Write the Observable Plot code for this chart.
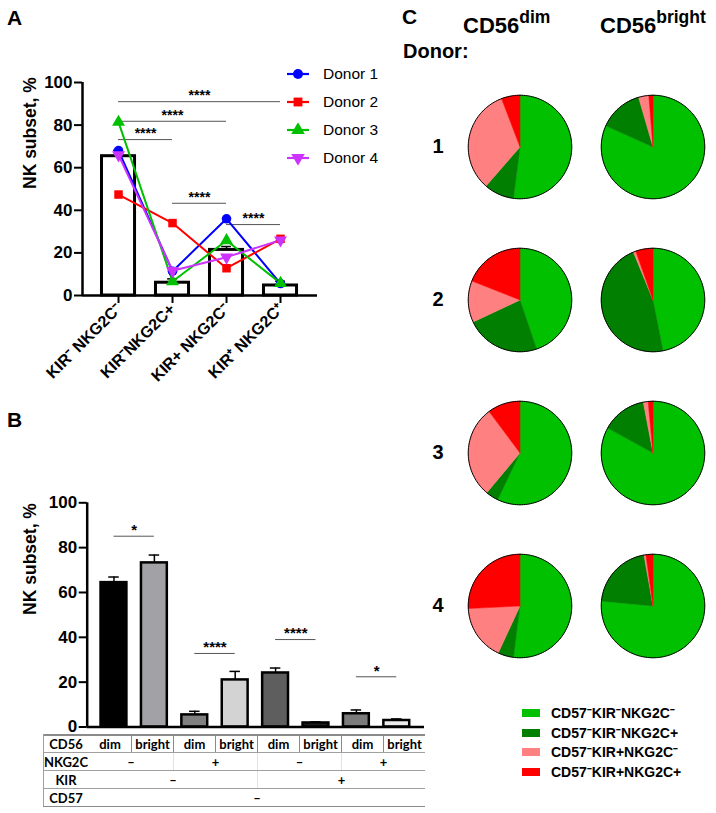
<!DOCTYPE html>
<html><head><meta charset="utf-8">
<script src="https://cdn.jsdelivr.net/npm/d3@7"></script>
<script src="https://cdn.jsdelivr.net/npm/@observablehq/plot@0.6"></script>
<style>
body{margin:0;background:#fff;font-family:"Liberation Sans",Arial,sans-serif;color:#000;}
#page{position:relative;width:716px;height:813px;overflow:hidden;background:#fff;}
.abs{position:absolute;white-space:nowrap;}
.panel{font-weight:bold;font-size:21px;line-height:21px;}
.hdr{font-weight:bold;font-size:22px;line-height:22px;}
.hdr .sup{font-size:17.5px;position:relative;top:-10px;}
.leg{font-size:15.5px;line-height:16px;}
.legc{font-weight:bold;font-size:14px;line-height:14px;}
.tcell{position:absolute;font-family:Lato,"Noto Sans",sans-serif;font-weight:bold;font-size:13px;line-height:18px;height:18px;text-align:center;box-sizing:border-box;}
</style></head><body><div id="page"></div>
<script>
// ---------- Panel A data ----------
const categoriesA = ["KIR⁻ NKG2C⁻", "KIR⁻NKG2C+", "KIR+ NKG2C⁻", "KIR⁺ NKG2C⁺"];
const meanA = [65.4, 6.0, 21.4, 4.7];
const errTopA = [68.2, 7.8, 23.0, 6.7];
const donors = ["Donor 1", "Donor 2", "Donor 3", "Donor 4"];
const donor1 = [68.0, 11.4, 36.0, 5.6];
const donor2 = [47.4, 34.0, 12.8, 26.6];
const donor3 = [81.4, 6.6, 25.8, 5.8];
const donor4 = [66.0, 11.6, 18.0, 26.0];
const donorColors = ["#0000ff", "#ff0000", "#00c000", "#cc33ff"];
const sigFromA = [0, 0, 0, 1, 2];
const sigToA = [3, 2, 1, 2, 3];
const sigYA = [91, 81.8, 73.2, 43.3, 33.3];
const sigLabelA = ["****", "****", "****", "****", "****"];

// ---------- Panel B data ----------
const cd56B = ["dim", "bright", "dim", "bright", "dim", "bright", "dim", "bright"];
const meanB = [64.4, 73.2, 5.4, 21.0, 24.1, 1.8, 5.9, 2.9];
const errTopB = [66.9, 76.7, 7.0, 24.8, 26.3, 2.3, 7.6, 3.6];
const fillB = ["#000000", "#a2a2a6", "#808080", "#d3d3d3", "#5e5e5e", "#1e1e1e", "#7b7b7b", "#ececec"];
const sigFromB = [0, 2, 4, 6];
const sigToB = [1, 3, 5, 7];
const sigYB = [85.1, 32.8, 39.0, 22.4];
const sigLabelB = ["*", "****", "****", "*"];
const tableRowLabels = ["CD56", "NKG2C", "KIR", "CD57"];
const tableCells = [
  [["dim",1],["bright",1],["dim",1],["bright",1],["dim",1],["bright",1],["dim",1],["bright",1]],
  [["–",2],["+",2],["–",2],["+",2]],
  [["–",4],["+",4]],
  [["–",8]]
];
const yTicks = [0, 20, 40, 60, 80, 100];
const yLabel = "NK subset, %";

// ---------- Panel C data (percent, clockwise from 12 o'clock) ----------
const subsets = ["CD57⁻KIR⁻NKG2C⁻", "CD57⁻KIR⁻NKG2C+", "CD57⁻KIR+NKG2C⁻", "CD57⁻KIR+NKG2C+"];
const subsetColors = ["#00c000", "#007f00", "#ff8080", "#ff0000"];
const donorIds = ["1", "2", "3", "4"];
const cd56Types = ["dim", "bright"];
const pieDim = [
  [52.0, 9.4, 32.8, 5.8],
  [44.8, 23.2, 13.0, 19.0],
  [57.1, 4.0, 28.7, 10.2],
  [52.0, 4.9, 17.3, 25.8]
];
const pieBright = [
  [81.7, 13.8, 3.2, 1.3],
  [46.9, 46.9, 0.8, 5.4],
  [83.0, 14.0, 1.5, 1.5],
  [76.5, 20.7, 0.6, 2.2]
];

// ---------- helpers ----------
const page = document.getElementById("page");
function addDiv(cls, html, left, top) {
  const d = document.createElement("div");
  d.className = "abs " + (cls || "");
  d.innerHTML = html; d.style.left = left + "px"; d.style.top = top + "px";
  page.appendChild(d); return d;
}
const baseStyle = {fontFamily: "'Liberation Sans', Arial, sans-serif", background: "transparent", overflow: "visible", color: "#000"};
const triangleDown = {
  draw(context, size) {
    const y = -Math.sqrt(size / (Math.sqrt(3) * 3));
    context.moveTo(0, -y * 2);
    context.lineTo(-Math.sqrt(3) * y, y);
    context.lineTo(Math.sqrt(3) * y, y);
    context.closePath();
  }
};
const donorSymbols = [d3.symbolCircle, d3.symbolSquare, d3.symbolTriangle, triangleDown];

// ---------- Panel A ----------
const xDomA = [-0.667, 3.685];
const hwA = 0.306, capA = 0.09;
const rowsA = categoriesA.map((c, i) => ({i, cat: c, mean: meanA[i], err: errTopA[i]}));
const donorValues = [donor1, donor2, donor3, donor4];
const donorRows = donors.flatMap((d, k) => donorValues[k].map((v, i) => ({donor: d, k, i, value: v})));
const sigA = sigYA.map((y, j) => ({from: sigFromA[j], to: sigToA[j], y, label: sigLabelA[j]}));

const plotA = Plot.plot({
  width: 380, height: 400,
  marginLeft: 82, marginTop: 82, marginRight: 63, marginBottom: 105,
  style: baseStyle,
  x: {domain: xDomA},
  y: {domain: [0, 100]},
  color: {domain: donors, range: donorColors},
  symbol: {domain: donors, range: donorSymbols},
  marks: [
    Plot.rect(rowsA, {x1: d => d.i - hwA, x2: d => d.i + hwA, y1: 0, y2: "mean", fill: "white", stroke: "black", strokeWidth: 3}),
    Plot.ruleX(rowsA, {x: "i", y1: "mean", y2: "err", strokeWidth: 1.5}),
    Plot.ruleY(rowsA, {y: "err", x1: d => d.i - capA, x2: d => d.i + capA, strokeWidth: 1.5}),
    Plot.ruleY(sigA, {y: "y", x1: "from", x2: "to", stroke: "#555", strokeWidth: 1}),
    Plot.text(sigA, {x: d => (d.from + d.to) / 2, y: "y", text: "label", dy: -6, fontSize: 14, fontWeight: "bold"}),
    Plot.line(donorRows, {x: "i", y: "value", z: "donor", stroke: "donor", strokeWidth: 2}),
    Plot.dot(donorRows, {x: "i", y: "value", symbol: "donor", fill: "donor", stroke: "none", r: 4.8}),
    Plot.ruleX([xDomA[0]], {strokeWidth: 2.5}),
    Plot.ruleY([0], {strokeWidth: 2.5}),
    Plot.axisY({ticks: yTicks, tickSize: 8, tickPadding: 2, fontSize: 17, fontWeight: "bold", strokeWidth: 2, label: null}),
    Plot.axisX({ticks: [0, 1, 2, 3], tickFormat: i => categoriesA[i], tickRotate: -45, tickSize: 8, tickPadding: 3, fontSize: 16, fontWeight: "bold", strokeWidth: 2, label: null}),
    Plot.text([yLabel], {text: d => d, frameAnchor: "left", rotate: -90, dx: -52, dy: 0, fontSize: 17.5, fontWeight: "bold"})
  ]
});
const divA = addDiv("", "", 0, 0); divA.appendChild(plotA);

// Panel A legend
donors.forEach((d, k) => {
  const y = 74 + k * 28;
  const sym = d3.symbol(donorSymbols[k], Math.PI * 5 * 5)();
  addDiv("", `<svg width="24" height="14" style="display:block"><line x1="1" x2="23" y1="7" y2="7" stroke="${donorColors[k]}" stroke-width="2.2"/><path d="${sym}" transform="translate(12,7)" fill="${donorColors[k]}"/></svg>`, 286, y - 7);
  addDiv("leg", d, 323, y - 8);
});

// ---------- Panel B ----------
const xDomB = [-0.663, 7.686];
const hwB = 0.32, capB = 0.13;
const rowsB = cd56B.map((c, i) => ({i, cd56: c, mean: meanB[i], err: errTopB[i], fill: fillB[i]}));
const sigB = sigYB.map((y, j) => ({from: sigFromB[j], to: sigToB[j], y, label: sigLabelB[j]}));
const plotB = Plot.plot({
  width: 440, height: 330,
  marginLeft: 86.7, marginTop: 92.3, marginRight: 16, marginBottom: 13.5,
  style: baseStyle,
  x: {domain: xDomB, axis: null},
  y: {domain: [0, 100]},
  marks: [
    Plot.rect(rowsB, {x1: d => d.i - hwB, x2: d => d.i + hwB, y1: 0, y2: "mean", fill: d => d.fill, stroke: "black", strokeWidth: 2.5}),
    Plot.ruleX(rowsB, {x: "i", y1: "mean", y2: "err", strokeWidth: 1.5}),
    Plot.ruleY(rowsB, {y: "err", x1: d => d.i - capB, x2: d => d.i + capB, strokeWidth: 1.5}),
    Plot.ruleY(sigB, {y: "y", x1: "from", x2: "to", stroke: "#555", strokeWidth: 1}),
    Plot.text(sigB, {x: d => (d.from + d.to) / 2, y: "y", text: "label", dy: -6, fontSize: 15, fontWeight: "bold"}),
    Plot.ruleX([xDomB[0]], {strokeWidth: 2.5}),
    Plot.ruleY([0], {strokeWidth: 2.5}),
    Plot.axisY({ticks: yTicks, tickSize: 8, tickPadding: 2, fontSize: 17, fontWeight: "bold", strokeWidth: 2, label: null}),
    Plot.text([yLabel], {text: d => d, frameAnchor: "left", rotate: -90, dx: -57, dy: 0, fontSize: 17.5, fontWeight: "bold"})
  ]
});
const divB = addDiv("", "", 0, 410); divB.appendChild(plotB);

// Panel B table
const tLeft = 43, tLabelW = 46, tColW = 42, tTop = 735, tRowH = 18;
const tbl = document.createElement("div");
tbl.className = "abs"; tbl.style.left = tLeft + "px"; tbl.style.top = tTop + "px";
tbl.style.width = (tLabelW + 8 * tColW) + "px"; tbl.style.height = (4 * tRowH) + "px";
page.appendChild(tbl);
tableRowLabels.forEach((lab, r) => {
  const top = r * tRowH;
  const line = document.createElement("div");
  line.className = "abs"; line.style.left = "0px"; line.style.top = (top - 1) + "px";
  line.style.width = (tLabelW + 8 * tColW) + "px"; line.style.height = "0px";
  line.style.borderTop = (r === 0 ? "2px solid #8a8a8a" : "1.5px solid #a0a0a0");
  tbl.appendChild(line);
  const l = document.createElement("div");
  l.className = "tcell"; l.textContent = lab; l.style.left = "0px"; l.style.top = top + "px"; l.style.width = tLabelW + "px";
  tbl.appendChild(l);
  let col = 0;
  tableCells[r].forEach(([txt, span], c) => {
    const cell = document.createElement("div");
    cell.className = "tcell"; cell.textContent = txt;
    cell.style.left = (tLabelW + col * tColW) + "px"; cell.style.top = top + "px";
    cell.style.width = (span * tColW) + "px";
    if (c > 0) cell.style.borderLeft = r === 0 ? "1px solid #8a8a8a" : "1px solid #e2e2e2";
    tbl.appendChild(cell);
    col += span;
  });
});
const bottomLine = document.createElement("div");
bottomLine.className = "abs"; bottomLine.style.left = "0px"; bottomLine.style.top = (4 * tRowH - 1) + "px";
bottomLine.style.width = (tLabelW + 8 * tColW) + "px"; bottomLine.style.borderTop = "1.5px solid #8a8a8a";
tbl.appendChild(bottomLine);
const leftLine = document.createElement("div");
leftLine.className = "abs"; leftLine.style.left = "0px"; leftLine.style.top = "-1px";
leftLine.style.height = (4 * tRowH) + "px"; leftLine.style.borderLeft = "1.5px solid #a0a0a0";
tbl.appendChild(leftLine);

// ---------- Panel C pies ----------
const pieValues = {dim: pieDim, bright: pieBright};
const sliceRows = [], outlineRows = [];
for (const t of cd56Types) {
  donorIds.forEach((donor, k) => {
    const vals = pieValues[t][k];
    const total = d3.sum(vals);
    let a0 = 0;
    vals.forEach((v, s) => {
      const a1 = a0 + v / total;
      const n = Math.max(2, Math.ceil((a1 - a0) * 180));
      const key = `${t}-${donor}-${s}`;
      const base = {key, t, donor, subset: subsets[s]};
      sliceRows.push({...base, x: 0, y: 0});
      for (let j = 0; j <= n; j++) {
        const th = 2 * Math.PI * (a0 + (a1 - a0) * j / n);
        sliceRows.push({...base, x: Math.sin(th), y: Math.cos(th)});
      }
      sliceRows.push({...base, x: 0, y: 0});
      a0 = a1;
    });
    for (let j = 0; j <= 180; j++) {
      const th = 2 * Math.PI * j / 180;
      outlineRows.push({key: `${t}-${donor}`, t, donor, x: Math.sin(th), y: Math.cos(th)});
    }
  });
}
const plotC = Plot.plot({
  width: 336, height: 677,
  marginLeft: 79, marginRight: 3, marginTop: 85, marginBottom: 10,
  style: {...baseStyle, fontSize: "20px", fontWeight: "bold"},
  x: {domain: [-1.15, 1.15], axis: null},
  y: {domain: [-1.15, 1.15], axis: null},
  fx: {domain: cd56Types, paddingInner: 0.104, paddingOuter: 0, axis: null},
  fy: {domain: donorIds, paddingInner: 0.22, paddingOuter: 0, axis: "left", tickSize: 0, tickPadding: 17, label: null},
  color: {domain: subsets, range: subsetColors},
  marks: [
    Plot.line(sliceRows, {x: "x", y: "y", z: "key", fx: "t", fy: "donor", fill: "subset", stroke: "subset", strokeWidth: 0.5}),
    Plot.line(outlineRows, {x: "x", y: "y", z: "key", fx: "t", fy: "donor", stroke: "black", strokeWidth: 1})
  ]
});
const divC = addDiv("", "", 380, 0); divC.appendChild(plotC);

// Panel labels & headers
addDiv("panel", "A", 7, 7);
addDiv("panel", "B", 7, 409);
addDiv("panel", "C", 402, 6);
addDiv("hdr", 'CD56<span class="sup">dim</span>', 463, 15);
addDiv("hdr", 'CD56<span class="sup">bright</span>', 600, 15);
addDiv("hdr", "Donor:", 403, 40).style.fontSize = "20px";

// Panel C legend
subsets.forEach((s, k) => {
  const y = 713 + k * 19.5;
  const sw = addDiv("", "", 522, y - 4);
  sw.style.width = "18px"; sw.style.height = "8px"; sw.style.background = subsetColors[k];
  addDiv("legc", s, 551, y - 7);
});
</script></body></html>
